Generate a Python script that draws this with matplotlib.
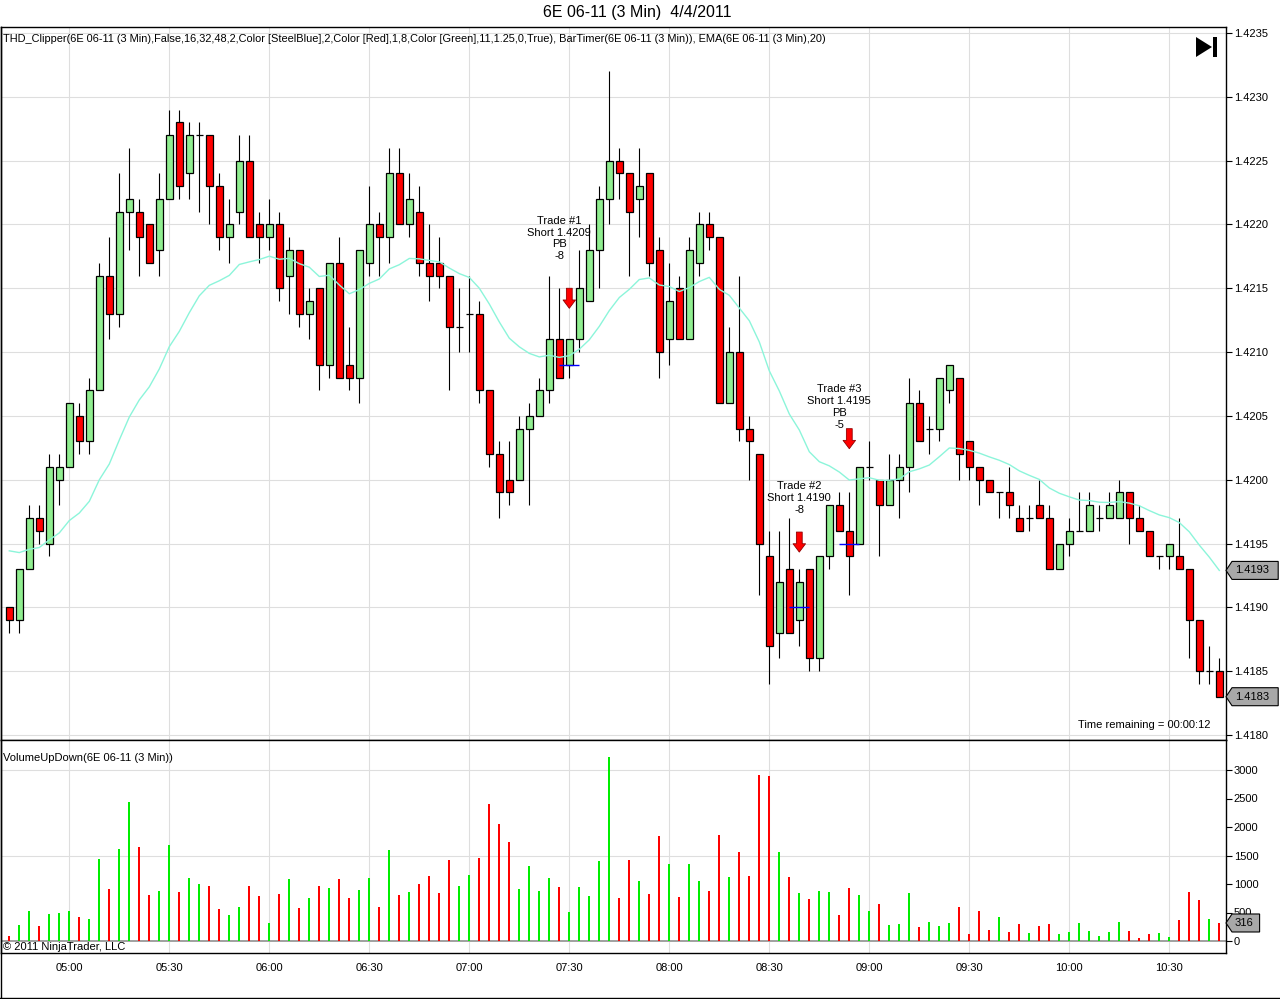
#!/usr/bin/env python3
"""NinjaTrader style 3 minute candle chart of 6E 06-11 with volume panel."""

import matplotlib

matplotlib.use("Agg")
import matplotlib.pyplot as plt
import pandas as pd
from matplotlib import font_manager
from matplotlib.patches import Polygon, Rectangle

INSTRUMENT = "6E 06-11 (3 Min)"
SESSION_DATE = "4/4/2011"
FIRST_BAR = "2011-04-04 04:42"

OPENS = [
    1.4190, 1.4189, 1.4193, 1.4197, 1.4195, 1.4200, 1.4201, 1.4205, 1.4203, 1.4207,
    1.4216, 1.4213, 1.4221, 1.4221, 1.4220, 1.4218, 1.4222, 1.4228, 1.4224, 1.4227,
    1.4227, 1.4223, 1.4219, 1.4221, 1.4225, 1.4220, 1.4219, 1.4220, 1.4216, 1.4218,
    1.4213, 1.4215, 1.4209, 1.4217, 1.4209, 1.4208, 1.4217, 1.4220, 1.4219, 1.4224,
    1.4220, 1.4221, 1.4217, 1.4217, 1.4216, 1.4212, 1.4213, 1.4213, 1.4207, 1.4202,
    1.4200, 1.4200, 1.4204, 1.4205, 1.4207, 1.4211, 1.4209, 1.4211, 1.4214, 1.4218,
    1.4222, 1.4225, 1.4224, 1.4222, 1.4224, 1.4218, 1.4211, 1.4215, 1.4211, 1.4217,
    1.4220, 1.4219, 1.4206, 1.4210, 1.4204, 1.4202, 1.4194, 1.4188, 1.4193, 1.4189,
    1.4193, 1.4186, 1.4194, 1.4198, 1.4196, 1.4195, 1.4201, 1.4200, 1.4198, 1.4200,
    1.4201, 1.4206, 1.4204, 1.4204, 1.4207, 1.4208, 1.4203, 1.4201, 1.4200, 1.4199,
    1.4199, 1.4197, 1.4197, 1.4198, 1.4197, 1.4193, 1.4195, 1.4196, 1.4196, 1.4197,
    1.4197, 1.4197, 1.4199, 1.4197, 1.4196, 1.4194, 1.4194, 1.4194, 1.4193, 1.4189,
    1.4185, 1.4185,
]
HIGHS = [
    1.4190, 1.4193, 1.4198, 1.4198, 1.4202, 1.4202, 1.4206, 1.4206, 1.4208, 1.4217,
    1.4219, 1.4224, 1.4226, 1.4222, 1.4220, 1.4224, 1.4229, 1.4229, 1.4228, 1.4228,
    1.4227, 1.4224, 1.4222, 1.4227, 1.4227, 1.4221, 1.4222, 1.4221, 1.4219, 1.4218,
    1.4215, 1.4215, 1.4217, 1.4219, 1.4212, 1.4218, 1.4223, 1.4221, 1.4226, 1.4226,
    1.4224, 1.4223, 1.4220, 1.4219, 1.4216, 1.4215, 1.4216, 1.4214, 1.4207, 1.4203,
    1.4203, 1.4205, 1.4206, 1.4208, 1.4216, 1.4215, 1.4211, 1.4218, 1.4220, 1.4223,
    1.4232, 1.4226, 1.4224, 1.4226, 1.4224, 1.4219, 1.4217, 1.4216, 1.4219, 1.4221,
    1.4221, 1.4219, 1.4212, 1.4216, 1.4205, 1.4202, 1.4196, 1.4196, 1.4197, 1.4193,
    1.4193, 1.4194, 1.4198, 1.4199, 1.4199, 1.4201, 1.4203, 1.4200, 1.4202, 1.4202,
    1.4208, 1.4207, 1.4205, 1.4208, 1.4209, 1.4208, 1.4203, 1.4201, 1.4200, 1.4199,
    1.4201, 1.4198, 1.4198, 1.4200, 1.4198, 1.4195, 1.4197, 1.4199, 1.4199, 1.4198,
    1.4199, 1.4200, 1.4199, 1.4198, 1.4196, 1.4194, 1.4195, 1.4197, 1.4193, 1.4189,
    1.4187, 1.4186,
]
LOWS = [
    1.4188, 1.4188, 1.4193, 1.4195, 1.4194, 1.4198, 1.4201, 1.4202, 1.4202, 1.4207,
    1.4211, 1.4212, 1.4218, 1.4216, 1.4217, 1.4216, 1.4222, 1.4222, 1.4222, 1.4221,
    1.4220, 1.4218, 1.4217, 1.4220, 1.4219, 1.4217, 1.4218, 1.4214, 1.4213, 1.4212,
    1.4211, 1.4207, 1.4208, 1.4208, 1.4207, 1.4206, 1.4216, 1.4216, 1.4217, 1.4220,
    1.4219, 1.4216, 1.4214, 1.4215, 1.4207, 1.4210, 1.4210, 1.4206, 1.4201, 1.4197,
    1.4198, 1.4200, 1.4198, 1.4205, 1.4206, 1.4208, 1.4208, 1.4210, 1.4214, 1.4215,
    1.4220, 1.4222, 1.4216, 1.4219, 1.4216, 1.4208, 1.4209, 1.4211, 1.4211, 1.4216,
    1.4218, 1.4206, 1.4206, 1.4203, 1.4200, 1.4191, 1.4184, 1.4186, 1.4188, 1.4187,
    1.4185, 1.4185, 1.4193, 1.4196, 1.4191, 1.4195, 1.4200, 1.4194, 1.4198, 1.4197,
    1.4199, 1.4203, 1.4202, 1.4203, 1.4206, 1.4200, 1.4200, 1.4198, 1.4199, 1.4197,
    1.4197, 1.4196, 1.4196, 1.4197, 1.4193, 1.4193, 1.4194, 1.4196, 1.4196, 1.4196,
    1.4197, 1.4197, 1.4195, 1.4196, 1.4194, 1.4193, 1.4193, 1.4193, 1.4186, 1.4184,
    1.4184, 1.4183,
]
CLOSES = [
    1.4189, 1.4193, 1.4197, 1.4196, 1.4201, 1.4201, 1.4206, 1.4203, 1.4207, 1.4216,
    1.4213, 1.4221, 1.4222, 1.4219, 1.4217, 1.4222, 1.4227, 1.4223, 1.4227, 1.4227,
    1.4223, 1.4219, 1.4220, 1.4225, 1.4219, 1.4219, 1.4220, 1.4215, 1.4218, 1.4213,
    1.4214, 1.4209, 1.4217, 1.4208, 1.4208, 1.4218, 1.4220, 1.4219, 1.4224, 1.4220,
    1.4222, 1.4217, 1.4216, 1.4216, 1.4212, 1.4212, 1.4213, 1.4207, 1.4202, 1.4199,
    1.4199, 1.4204, 1.4205, 1.4207, 1.4211, 1.4208, 1.4211, 1.4215, 1.4218, 1.4222,
    1.4225, 1.4224, 1.4221, 1.4223, 1.4217, 1.4210, 1.4214, 1.4211, 1.4218, 1.4220,
    1.4219, 1.4206, 1.4210, 1.4204, 1.4203, 1.4195, 1.4187, 1.4192, 1.4188, 1.4192,
    1.4186, 1.4194, 1.4198, 1.4196, 1.4194, 1.4201, 1.4201, 1.4198, 1.4200, 1.4201,
    1.4206, 1.4203, 1.4204, 1.4208, 1.4209, 1.4202, 1.4201, 1.4200, 1.4199, 1.4199,
    1.4198, 1.4196, 1.4197, 1.4197, 1.4193, 1.4195, 1.4196, 1.4196, 1.4198, 1.4197,
    1.4198, 1.4199, 1.4197, 1.4196, 1.4194, 1.4194, 1.4195, 1.4193, 1.4189, 1.4185,
    1.4185, 1.4183,
]
VOLUMES = [
    95, 285, 530, 270, 480, 495, 530, 425, 390, 1440,
    915, 1615, 2435, 1650, 810, 880, 1685, 860, 1105, 1000,
    965, 565, 460, 600, 965, 790, 320, 825, 1090, 580,
    755, 965, 930, 1090, 755, 895, 1105, 600, 1595, 810,
    860, 1000, 1140, 845, 1420, 965, 1160, 1455, 2400, 2050,
    1735, 915, 1315, 880, 1105, 950, 515, 950, 790, 1405,
    3225, 755, 1420, 1055, 825, 1840, 1350, 775, 1350, 1055,
    880, 1860, 1125, 1560, 1140, 2905, 2890, 1560, 1125, 845,
    740, 880, 860, 460, 930, 810, 530, 650, 285, 305,
    845, 250, 340, 270, 320, 600, 130, 530, 200, 425,
    165, 305, 145, 270, 305, 130, 165, 320, 180, 95,
    165, 340, 180, 60, 130, 145, 75, 375, 860, 720,
    390, 316,
]
EMA_PERIOD = 20
EMA_SEED = 1.4195  # EMA value carried in from the bar before the first one shown

TRADE_BARS = [56, 79, 84]
TRADE_PRICES = [1.4209, 1.4190, 1.4195]
TRADE_RESULTS = ["-8", "-8", "-5"]
TRADE_PULLBACK = [True, False, True]

PRICE_TICKS = [1.4180, 1.4185, 1.4190, 1.4195, 1.4200, 1.4205,
               1.4210, 1.4215, 1.4220, 1.4225, 1.4230, 1.4235]
VOLUME_TICKS = [0, 500, 1000, 1500, 2000, 2500, 3000]
VOLUME_GRID = [1500, 3000]
TIME_LABELS = ["05:00", "05:30", "06:00", "06:30", "07:00", "07:30",
               "08:00", "08:30", "09:00", "09:30", "10:00", "10:30"]
TIME_REMAINING = "00:00:12"

# layout in reference pixels (top-left origin)
W, H = 1280, 999
PANEL_LEFT, PANEL_RIGHT = 1, 1226
PRICE_TOP, PRICE_BOTTOM, VOLUME_BOTTOM = 27, 740, 953
BAR_X0, BAR_STEP = 9.3, 10.0
PRICE_REF = (1.4180, 735, 1.4235, 33)
VOLUME_REF = (0, 941, 3000, 770)

GRID = "#DEDEDE"
UP_FILL = "#90EE90"
DOWN_FILL = "#FF0000"
UP_VOL = "#00EE00"
DOWN_VOL = "#FF0000"
EMA_COLOR = "#8CF5DA"
TAG_FILL = "#A8A8A8"


def fx(px):
    return px / W


def fy(py):
    return 1 - py / H


def limits_from_ref(ref, top_px, bottom_px):
    v0, p0, v1, p1 = ref
    per_px = (v1 - v0) / (p0 - p1)
    return v0 - (bottom_px - p0) * per_px, v1 + (p1 - top_px) * per_px


def value_tag(fig, ax, value, label):
    trans = ax.transData + fig.transFigure.inverted()
    _, yf = trans.transform((0, value))
    xr = fx(PANEL_RIGHT)
    half = 9 / H
    tip = 6 / W
    width = (9 + 6.2 * len(label)) / W
    pts = [(xr, yf), (xr + tip, yf + half), (xr + tip + width, yf + half),
           (xr + tip + width, yf - half), (xr + tip, yf - half)]
    fig.add_artist(Polygon(pts, closed=True, transform=fig.transFigure,
                           fc=TAG_FILL, ec="black", lw=0.8, zorder=5))
    fig.text(xr + tip + 3 / W, yf, label, ha="left", va="center",
             fontsize=8, zorder=6)


def main():
    available = {f.name for f in font_manager.fontManager.ttflist}
    base = "Liberation Sans" if "Liberation Sans" in available else "DejaVu Sans"
    narrow = "Liberation Sans Narrow" if "Liberation Sans Narrow" in available else base
    plt.rcParams["font.family"] = [base, "DejaVu Sans"]
    plt.rcParams["font.size"] = 8

    n = len(CLOSES)
    idx = list(range(n))
    times = pd.date_range(FIRST_BAR, periods=n, freq="3min")
    tick_pos = [i for i, t in enumerate(times) if t.strftime("%H:%M") in TIME_LABELS]
    tick_lab = [times[i].strftime("%H:%M") for i in tick_pos]

    ema = pd.Series([EMA_SEED] + CLOSES).ewm(span=EMA_PERIOD, adjust=False).mean()
    ema = ema.iloc[1:].tolist()

    fig = plt.figure(figsize=(W / 100, H / 100), dpi=100)
    width = (PANEL_RIGHT - PANEL_LEFT) / W
    ax = fig.add_axes([fx(PANEL_LEFT), fy(PRICE_BOTTOM), width,
                       (PRICE_BOTTOM - PRICE_TOP) / H])
    axv = fig.add_axes([fx(PANEL_LEFT), fy(VOLUME_BOTTOM), width,
                        (VOLUME_BOTTOM - PRICE_BOTTOM) / H], sharex=ax)

    xlim = ((PANEL_LEFT - BAR_X0) / BAR_STEP, (PANEL_RIGHT - BAR_X0) / BAR_STEP)
    ax.set_xlim(*xlim)
    ax.set_ylim(*limits_from_ref(PRICE_REF, PRICE_TOP, PRICE_BOTTOM))
    axv.set_ylim(*limits_from_ref(VOLUME_REF, PRICE_BOTTOM, VOLUME_BOTTOM))

    # price panel
    ax.set_axisbelow(True)
    ax.set_yticks(PRICE_TICKS)
    ax.set_yticklabels([f"{p:.4f}" for p in PRICE_TICKS])
    ax.set_xticks(tick_pos)
    ax.grid(True, color=GRID, lw=0.8)
    ax.yaxis.tick_right()
    ax.tick_params(axis="y", direction="out", length=4.5, width=0.8, pad=1,
                   labelsize=8)
    ax.tick_params(axis="x", length=0, labelbottom=False)

    up = [c > o for o, c in zip(OPENS, CLOSES)]
    doji = [c == o for o, c in zip(OPENS, CLOSES)]
    ax.vlines(idx, LOWS, HIGHS, color="black", lw=0.8, zorder=2)
    body_i = [i for i in idx if not doji[i]]
    ax.bar(body_i,
           [abs(CLOSES[i] - OPENS[i]) for i in body_i],
           bottom=[min(OPENS[i], CLOSES[i]) for i in body_i],
           width=0.66,
           color=[UP_FILL if up[i] else DOWN_FILL for i in body_i],
           edgecolor="black", linewidth=0.9, zorder=3)
    doji_i = [i for i in idx if doji[i]]
    ax.hlines([CLOSES[i] for i in doji_i], [i - 0.35 for i in doji_i],
              [i + 0.35 for i in doji_i], color="black", lw=0.9, zorder=3)
    ax.plot(idx, ema, color=EMA_COLOR, lw=1.0, zorder=4)

    # trade markers
    arrow_tops = [1.42150, 1.41959, 1.42040]
    text_bars = [55, 79, 83]
    text_mid = [1.42189, 1.41986, 1.42057]
    for k, bar in enumerate(TRADE_BARS):
        lines = [f"Trade #{k + 1}", f"Short {TRADE_PRICES[k]:.4f}"]
        if TRADE_PULLBACK[k]:
            lines.append("PB")
        lines.append(TRADE_RESULTS[k])
        ax.text(text_bars[k], text_mid[k], "\n".join(lines), ha="center",
                va="center", fontsize=8, linespacing=1.24, zorder=6)
        ax.annotate("", xy=(bar, arrow_tops[k] - 0.000157),
                    xytext=(bar, arrow_tops[k]),
                    arrowprops=dict(arrowstyle="simple,head_length=0.6,"
                                    "head_width=0.9,tail_width=0.42",
                                    mutation_scale=10, fc="#FF0000",
                                    ec="#900000", lw=0.6, shrinkA=0, shrinkB=0),
                    zorder=6)
        ax.hlines(TRADE_PRICES[k], bar - 1, bar + 1, color="#0000FF", lw=1.0,
                  zorder=5)

    for side in ("left", "right", "top", "bottom"):
        ax.spines[side].set_color("black")
        ax.spines[side].set_linewidth(1.0)

    # volume panel
    axv.bar(idx, VOLUMES, width=0.22, linewidth=0,
            color=[UP_VOL if c >= o else DOWN_VOL for o, c in zip(OPENS, CLOSES)],
            zorder=3)
    for v in VOLUME_GRID:
        axv.axhline(v, color=GRID, lw=0.8, zorder=1)
    axv.axhline(0, color="#A0A0A0", lw=1.4, zorder=2)
    for t in tick_pos:
        axv.axvline(t, color=GRID, lw=0.8, zorder=1)
    axv.set_yticks(VOLUME_TICKS)
    axv.set_yticklabels([str(v) for v in VOLUME_TICKS])
    axv.yaxis.tick_right()
    axv.tick_params(axis="y", direction="out", length=4.5, width=0.8, pad=1,
                    labelsize=8)
    axv.set_xticks(tick_pos)
    axv.set_xticklabels(tick_lab)
    axv.tick_params(axis="x", length=0, pad=7, labelsize=8)
    for side in ("left", "right", "top", "bottom"):
        axv.spines[side].set_color("black")
        axv.spines[side].set_linewidth(1.0)

    # last value tags
    value_tag(fig, ax, ema[-1], f"{ema[-1]:.4f}")
    value_tag(fig, ax, CLOSES[-1], f"{CLOSES[-1]:.4f}")
    value_tag(fig, axv, VOLUMES[-1], str(VOLUMES[-1]))

    # texts
    fig.text(fx(637), fy(13), f"{INSTRUMENT}  {SESSION_DATE}", ha="center",
             va="center", fontsize=11.5, family=[narrow, "DejaVu Sans"])
    fig.text(fx(3), fy(39),
             f"THD_Clipper({INSTRUMENT},False,16,32,48,2,Color [SteelBlue],2,"
             f"Color [Red],1,8,Color [Green],11,1.25,0,True), "
             f"BarTimer({INSTRUMENT}), EMA({INSTRUMENT},{EMA_PERIOD})",
             ha="left", va="center", fontsize=7.9, family=[narrow, "DejaVu Sans"])
    fig.text(fx(1210), fy(725), f"Time remaining = {TIME_REMAINING}",
             ha="right", va="center", fontsize=8)
    fig.text(fx(3), fy(758), f"VolumeUpDown({INSTRUMENT})", ha="left",
             va="center", fontsize=8)
    fig.text(fx(3), fy(947), "\u00a9 2011 NinjaTrader, LLC", ha="left",
             va="center", fontsize=8)

    # "go to last bar" icon
    fig.add_artist(Polygon([(fx(1196), fy(37)), (fx(1196), fy(57)),
                            (fx(1212), fy(47))], closed=True,
                           transform=fig.transFigure, fc="black", ec="none"))
    fig.add_artist(Rectangle((fx(1213), fy(57)), 4 / W, 20 / H,
                             transform=fig.transFigure, fc="black", ec="none"))

    # outer frame of the time strip
    fig.add_artist(plt.Line2D([fx(0.5), fx(0.5)], [fy(PRICE_TOP), fy(998)],
                              transform=fig.transFigure, color="black", lw=1.0))
    fig.add_artist(plt.Line2D([0, 1], [fy(997.5), fy(997.5)],
                              transform=fig.transFigure, color="black", lw=1.0))

    fig.savefig("out.png", dpi=100)
    plt.close(fig)


if __name__ == "__main__":
    main()
